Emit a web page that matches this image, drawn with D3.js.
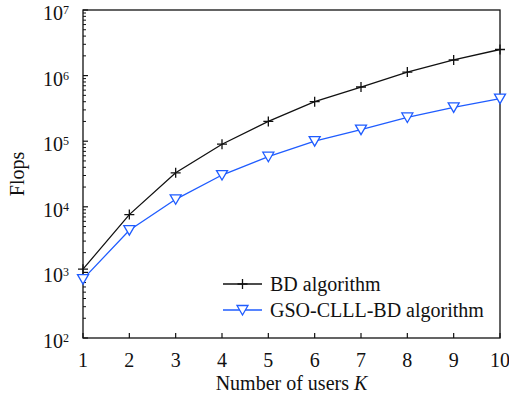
<!DOCTYPE html>
<html>
<head>
<meta charset="utf-8">
<script src="https://cdn.jsdelivr.net/npm/d3@7"></script>
<style>
  body { margin: 0; background: #fff; }
  text { font-family: "Liberation Serif", "Times New Roman", serif; fill: #111; }
</style>
</head>
<body>
<div id="chart"></div>
<script>
const users = [1, 2, 3, 4, 5, 6, 7, 8, 9, 10];
const bdFlops = [1.12e3, 7.6e3, 3.3e4, 9.0e4, 2.0e5, 4.0e5, 6.7e5, 1.13e6, 1.73e6, 2.5e6];
const gsoFlops = [7.9e2, 4.4e3, 1.3e4, 3.05e4, 5.8e4, 1.0e5, 1.5e5, 2.3e5, 3.27e5, 4.45e5];
const yTickExps = [2, 3, 4, 5, 6, 7];
const seriesNames = ["BD algorithm", "GSO-CLLL-BD algorithm"];

const width = 509, height = 406;
const margin = { top: 10, right: 9, bottom: 68, left: 83 };
const w = width - margin.left - margin.right,
    h = height - margin.top - margin.bottom;
const fs = 20;

const svg = d3.select("#chart").append("svg")
    .attr("width", width)
    .attr("height", height);
const g = svg.append("g")
    .attr("transform", "translate(" + margin.left + "," + margin.top + ")");

const x = d3.scaleLinear().domain([1, 10]).range([0, w]);
const y = d3.scaleLog().domain([1e2, 1e7]).range([h, 0]);

// frame
g.append("rect")
    .attr("width", w).attr("height", h)
    .attr("fill", "none").attr("stroke", "#111").attr("stroke-width", 1.3);

// x ticks (inside)
g.selectAll(".xtick").data(users).enter().append("line")
    .attr("x1", d => x(d)).attr("x2", d => x(d))
    .attr("y1", h).attr("y2", h - 5)
    .attr("stroke", "#111").attr("stroke-width", 1.2);
g.selectAll(".xlab").data(users).enter().append("text")
    .attr("x", d => x(d)).attr("y", h + 29)
    .attr("text-anchor", "middle").attr("font-size", fs)
    .text(d => d);

// y ticks, major and minor (inside)
let minors = [];
for (let e = 2; e < 7; e++) {
    for (let m = 2; m <= 9; m++) minors.push(m * Math.pow(10, e));
}
g.selectAll(".ymin").data(minors).enter().append("line")
    .attr("x1", 0).attr("x2", 3)
    .attr("y1", d => y(d)).attr("y2", d => y(d))
    .attr("stroke", "#111").attr("stroke-width", 1);
g.selectAll(".ymaj").data(yTickExps).enter().append("line")
    .attr("x1", 0).attr("x2", 5)
    .attr("y1", d => y(Math.pow(10, d))).attr("y2", d => y(Math.pow(10, d)))
    .attr("stroke", "#111").attr("stroke-width", 1.2);
const ylab = g.selectAll(".ylab").data(yTickExps).enter().append("text")
    .attr("x", -40).attr("y", d => y(Math.pow(10, d)) + 10)
    .attr("font-size", fs);
ylab.append("tspan").text("10");
ylab.append("tspan").attr("dy", -6).attr("font-size", 12).text(d => d);

// axis titles
svg.append("text")
    .attr("transform", "translate(24," + (margin.top + h / 2) + ") rotate(-90)")
    .attr("text-anchor", "middle").attr("font-size", fs)
    .text("Flops");
const xt = svg.append("text")
    .attr("x", margin.left + w / 2).attr("y", 390)
    .attr("text-anchor", "middle").attr("font-size", fs);
xt.append("tspan").text("Number of users ");
xt.append("tspan").attr("font-style", "italic").text("K");

const line = d3.line().x((d, i) => x(users[i])).y(d => y(d));
const blue = "#1f5cff";

// BD series
g.append("path").datum(bdFlops)
    .attr("d", line).attr("fill", "none")
    .attr("stroke", "#111").attr("stroke-width", 1.3);
function drawPlus(sel, cx, cy) {
    sel.append("path")
        .attr("d", "M" + (cx - 5) + "," + cy + "H" + (cx + 5) + "M" + cx + "," + (cy - 5) + "V" + (cy + 5))
        .attr("stroke", "#111").attr("stroke-width", 1.3);
}
bdFlops.forEach((v, i) => drawPlus(g, x(users[i]), y(v)));

// GSO series
g.append("path").datum(gsoFlops)
    .attr("d", line).attr("fill", "none")
    .attr("stroke", blue).attr("stroke-width", 1.3);
function drawTri(sel, cx, cy) {
    sel.append("path")
        .attr("d", "M" + (cx - 5.5) + "," + (cy - 4.5) + "L" + (cx + 5.5) + "," + (cy - 4.5) + "L" + cx + "," + (cy + 5) + "Z")
        .attr("fill", "#fff").attr("stroke", blue).attr("stroke-width", 1.3);
}
gsoFlops.forEach((v, i) => drawTri(g, x(users[i]), y(v)));

// legend
const lg = svg.append("g");
const legY = [284, 310];
lg.append("line").attr("x1", 223).attr("x2", 262).attr("y1", legY[0]).attr("y2", legY[0])
    .attr("stroke", "#111").attr("stroke-width", 1.3);
drawPlus(lg, 242.5, legY[0]);
lg.append("line").attr("x1", 223).attr("x2", 262).attr("y1", legY[1]).attr("y2", legY[1])
    .attr("stroke", blue).attr("stroke-width", 1.3);
drawTri(lg, 242.5, legY[1]);
lg.selectAll(".lt").data(seriesNames).enter().append("text")
    .attr("x", 270).attr("y", (d, i) => legY[i] + 7)
    .attr("font-size", fs).text(d => d);
</script>
</body>
</html>
